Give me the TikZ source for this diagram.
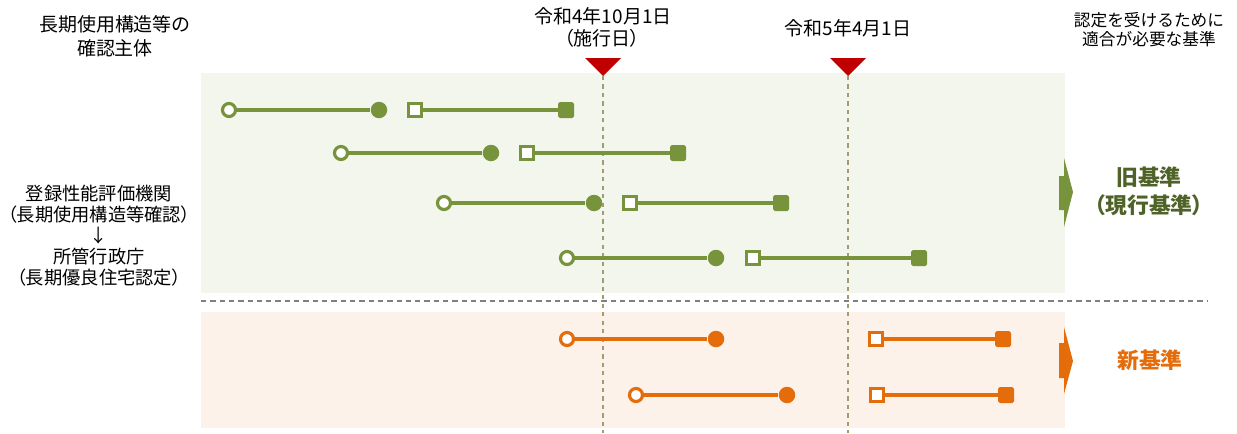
\documentclass[tikz,border=0pt]{standalone}
\usepackage{fontspec}
\setmainfont{Noto Sans CJK JP}
\usepackage{xcolor}
\usepackage{tikz}
\usetikzlibrary{positioning}

\definecolor{grn}{HTML}{77933C}
\definecolor{grnbg}{HTML}{F3F6EC}
\definecolor{grntxt}{HTML}{4F6228}
\definecolor{org}{HTML}{E46C0A}
\definecolor{orgbg}{HTML}{FDF2EA}
\definecolor{redmk}{HTML}{C00000}
\definecolor{vline}{HTML}{A39C72}

\begin{document}
\begin{tikzpicture}[x=0.02cm, y=-0.02cm,
  every node/.style={inner sep=0pt},
  opn/.style={draw=#1, circle, fill=white, line width=1.8pt, minimum size=0.26cm},
  ful/.style={fill=#1, circle, minimum size=0.33cm},
  opnsq/.style={draw=#1, rectangle, fill=white, line width=1.8pt, minimum size=0.25cm},
  fulsq/.style={fill=#1, rectangle, rounded corners=1pt, minimum size=0.32cm},
  bar/.style={draw=#1, line width=1.9pt},
  big/.style={font=\fontsize{10.8}{13.6}\selectfont},
  small/.style={font=\fontsize{9.5}{10.8}\selectfont},
  side/.style={font=\fontsize{10.4}{12}\selectfont\addfontfeature{RawFeature=+palt}},
  std/.style={font=\fontsize{12.4}{15.9}\selectfont\bfseries\addfontfeature{RawFeature=+palt}}]

\useasboundingbox (0,0) rectangle (1237,433);
\fill[grnbg] (201,73) rectangle (1065,293);
\fill[orgbg] (201,312) rectangle (1065,428);

\coordinate (t1) at (603,76);
\coordinate (t2) at (848,76);
\coordinate (u1) at (603,433);
\coordinate (u2) at (848,433);
\path[draw, vline, line width=0.7pt, dash pattern=on 2.4pt off 2.4pt] (t1) -- (u1);
\path[draw, vline, line width=0.7pt, dash pattern=on 2.4pt off 2.4pt] (t2) -- (u2);
\fill[redmk] (585,58) -- (621,58) -- (t1) -- cycle;
\fill[redmk] (830,58) -- (866,58) -- (t2) -- cycle;

\coordinate (s1) at (201,301);
\coordinate (s2) at (1207,301);
\path[draw, gray, line width=0.8pt, dash pattern=on 3pt off 2.3pt] (s1) -- (s2);

\node[opn=grn] (a1) at (229,110) {};
\node[ful=grn] (b1) at (379,110) {};
\node[opnsq=grn] (c1) at (415,110) {};
\node[fulsq=grn] (d1) at (566,110) {};
\path[bar=grn] (a1) -- (b1);
\path[bar=grn] (c1) -- (d1);

\node[opn=grn] (a2) at (341,153) {};
\node[ful=grn] (b2) at (491,153) {};
\node[opnsq=grn] (c2) at (527,153) {};
\node[fulsq=grn] (d2) at (678,153) {};
\path[bar=grn] (a2) -- (b2);
\path[bar=grn] (c2) -- (d2);

\node[opn=grn] (a3) at (444,203) {};
\node[ful=grn] (b3) at (594,203) {};
\node[opnsq=grn] (c3) at (630,203) {};
\node[fulsq=grn] (d3) at (781,203) {};
\path[bar=grn] (a3) -- (b3);
\path[bar=grn] (c3) -- (d3);

\node[opn=grn] (a4) at (567,258) {};
\node[ful=grn] (b4) at (716,258) {};
\node[opnsq=grn] (c4) at (753,258) {};
\node[fulsq=grn] (d4) at (919,258) {};
\path[bar=grn] (a4) -- (b4);
\path[bar=grn] (c4) -- (d4);

\node[opn=org] (a5) at (567,339) {};
\node[ful=org] (b5) at (716,339) {};
\node[opnsq=org] (c5) at (876,339) {};
\node[fulsq=org] (d5) at (1003,339) {};
\path[bar=org] (a5) -- (b5);
\path[bar=org] (c5) -- (d5);

\node[opn=org] (a6) at (636,395) {};
\node[ful=org] (b6) at (787,395) {};
\node[opnsq=org] (c6) at (877,395) {};
\node[fulsq=org] (d6) at (1006,395) {};
\path[bar=org] (a6) -- (b6);
\path[bar=org] (c6) -- (d6);

\fill[grn] (1059,176) -- (1064,176) -- (1064,158) -- (1073,192) -- (1064,227) -- (1064,210) -- (1059,210) -- cycle;
\fill[org] (1059,343) -- (1064,343) -- (1064,327) -- (1073,361) -- (1064,394) -- (1064,378) -- (1059,378) -- cycle;

\node[big, align=center] (who) at (115,36) {長期使用構造等の\\確認主体};
\node[small, align=center] (req) at (1149,30) {認定を受けるために\\適合が必要な基準};
\node[big] (k1) at (603,16) {令和4年10月1日};
\node[big] (k2) at (602,38) {\addfontfeature{RawFeature=+palt}（施行日）};
\node[big] (k3) at (848,28) {令和5年4月1日};

\node[side, align=center] (org) at (99,236) {登録性能評価機関\\（長期使用構造等確認）\\↓\\所管行政庁\\（長期優良住宅認定）};

\node[std, text=grntxt, align=center] (old) at (1149,191) {旧基準\\（現行基準）};
\node[std, text=org] (new) at (1150,360) {新基準};

\end{tikzpicture}
\end{document}
